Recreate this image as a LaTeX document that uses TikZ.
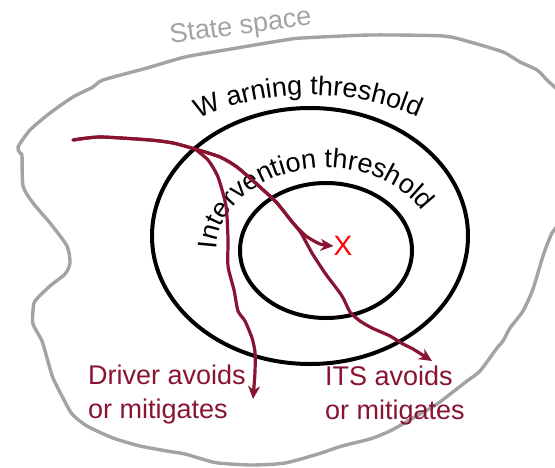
\documentclass[tikz,border=0pt]{standalone}
\usepackage{fontspec}
\setmainfont{Liberation Sans}
\usetikzlibrary{shapes.geometric,decorations.text,arrows.meta}
\definecolor{pathred}{RGB}{136,20,50}
\definecolor{blobgray}{RGB}{163,163,163}
\definecolor{xred}{RGB}{255,0,0}
\begin{document}
\begin{tikzpicture}[x=1pt,y=-1pt,
  blob/.style={draw=blobgray,line width=3.4pt,line join=round},
  thresh/.style={draw=black,line width=4pt,ellipse,inner sep=0pt},
  route/.style={draw=pathred,line width=3.2pt,line cap=round,line join=round,-{Stealth[length=13pt,width=12pt]}},
  outcome/.style={text=pathred,font=\fontsize{27}{34}\selectfont,align=left,inner sep=0pt}]
\useasboundingbox (0,0) rectangle (555,467);
\clip (0,0) rectangle (555,467);
% state space blob
\draw[blob] plot[smooth cycle,tension=0.4] coordinates {
 (20,153) (18,147) (30,130) (50,113) (73,97) (93,87) (103,80) (147,68) (185,57) (225,50) (285,40) (302,38)
 (370,35) (443,36) (470,42) (503,52) (520,62) (537,70) (547,80) (566,100) (592,155) (566,214)
 (552,233) (543,256) (533,289) (523,311) (510,328) (503,341) (497,348) (480,371) (467,381) (437,404)
 (413,418) (390,431) (370,439) (342,446) (318,454) (285,463) (252,465) (218,463) (202,459) (185,454)
 (167,451) (140,446) (113,438) (87,426) (72,414) (63,398) (53,378) (47,358) (42,341) (33,324) (33,311)
 (35,301) (50,286) (65,274) (70,263) (67,246) (50,223) (33,203) (23,186) (22,156)};
\node[text=blobgray,font=\fontsize{27}{30}\selectfont,rotate=7.5,anchor=base,inner sep=0pt] (ss) at (241.5,34) {State space};
% thresholds
\node[thresh,minimum width=316pt,minimum height=256pt] (warn) at (310,236) {};
\node[thresh,minimum width=172pt,minimum height=135pt] (interv) at (326,250.5) {};
\path[decorate,decoration={text along path,text={|\fontsize{27}{30}\selectfont|W arning threshold}}]
  plot[domain=124:40,samples=90] ({310+200*cos(\x)},{236-141*sin(\x)});
\path[decorate,decoration={text along path,text={|\fontsize{27}{30}\selectfont|Intervention threshold}}]
  plot[domain=178:5,samples=120] ({326+110*cos(\x)},{252-84*sin(\x)});
% hazard
\node[text=xred,font=\fontsize{28}{28}\selectfont,inner sep=0pt] (x) at (343,246) {X};
% routes
\coordinate (itsend) at (432,361);
\coordinate (drvend) at (253,399);
\draw[route] plot[smooth,tension=0.4] coordinates {(73,140) (100,137) (150,140) (173,143) (195,149) (220,157) (237,167) (260,187) (277,203) (293,223) (306,236) (320,244) (x.west)};
\draw[route] plot[smooth,tension=0.4] coordinates {(73,140) (100,137) (150,140) (173,143) (195,149) (220,157) (237,167) (260,187) (277,203) (293,223) (301,233) (312,253) (325,273) (342,296) (350,312) (360,321) (372,328) (390,336) (403,344) (413,349) (itsend)};
\draw[route] plot[smooth,tension=0.4] coordinates {(195,149) (208,160) (218,177) (226,206) (228,239) (228,266) (234,290) (238,311) (245,321) (252,338) (255,352) (255,372) (drvend)};
% outcomes
\node[outcome,anchor=base west] (drvlab) at (88,418) {Driver avoids\\or mitigates};
\node[outcome,anchor=base west] (itslab) at (325,419) {ITS avoids\\or mitigates};
\end{tikzpicture}
\end{document}
